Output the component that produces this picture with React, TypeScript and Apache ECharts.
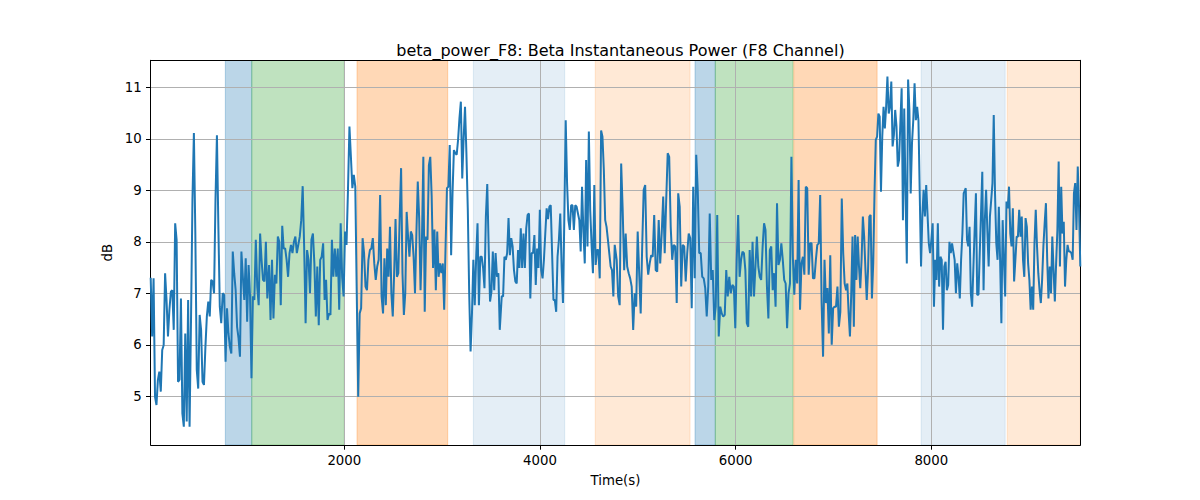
import React, { useEffect, useRef } from "react";
import * as echarts from "echarts";

const TITLE = "beta_power_F8: Beta Instantaneous Power (F8 Channel)";
const X_NAME = "Time(s)";
const Y_NAME = "dB";
const X_MIN = 21;
const X_MAX = 9523;
const Y_MIN = 4.054;
const Y_MAX = 11.524;
const X_TICKS = [2000, 4000, 6000, 8000];
const Y_TICKS = [5, 6, 7, 8, 9, 10, 11];

// shaded intervals (time, s)
const bandStarts = [784, 1054, 2130, 3319, 4565, 5585, 5792, 6594, 7896, 8776];
const bandEnds = [1054, 2000, 3057, 4253, 5534, 5792, 6587, 7446, 8755, 9523];
const bandColors = [
  "rgba(31,119,180,0.3)",
  "rgba(44,160,44,0.3)",
  "rgba(255,127,14,0.3)",
  "rgba(31,119,180,0.12)",
  "rgba(255,127,14,0.17)",
  "rgba(31,119,180,0.3)",
  "rgba(44,160,44,0.3)",
  "rgba(255,127,14,0.3)",
  "rgba(31,119,180,0.12)",
  "rgba(255,127,14,0.17)",
];

// signal, read in consecutive stretches of time
const segmentStarts = [21, 1231, 2410, 3609, 4784, 5967, 7142, 8352];
const segmentEnds = [1213, 2396, 3589, 4764, 5950, 7129, 8331, 9523];

const seg1 = [7.3, 6.16, 7.29, 4.99, 4.83, 5.32, 5.48, 5.09, 5.9, 5.99, 7.39, 6.87, 6.16, 6.68, 7.03, 7.06, 6.29, 8.36, 8.04, 5.28, 5.32, 6.9, 4.67, 4.41, 6.22, 4.51, 6.87, 4.41, 6.48, 8.81, 10.11, 8.16, 5.51, 5.15, 6.58, 6.29, 5.28, 5.22, 5.96, 6.55, 6.84, 6.55, 7.26, 7.23, 7.0, 8.81, 10.07, 8.29, 6.74, 6.42, 7.0, 6.97, 5.67, 6.71, 6.22, 5.96, 5.83, 7.81, 7.39, 7.06, 6.35, 6.13, 5.77, 7.81, 7.32, 6.87, 7.68, 6.45, 7.55, 6.94, 5.35, 6.94, 6.87, 8.04, 7.13, 6.77, 8.16, 7.65, 7.26, 7.23, 8.0, 6.9];
const seg2 = [7.55, 6.48, 7.65, 6.51, 7.36, 7.19, 8.1, 8.0, 6.77, 8.31, 7.87, 7.87, 7.65, 7.32, 7.78, 7.94, 7.78, 8.0, 8.1, 7.78, 7.94, 8.1, 8.42, 9.08, 7.91, 6.42, 7.84, 7.65, 7.0, 8.04, 8.16, 7.58, 6.55, 7.52, 6.38, 7.65, 7.71, 7.97, 6.87, 7.26, 6.48, 6.61, 6.58, 8.04, 7.32, 7.87, 7.32, 7.87, 6.68, 8.36, 7.32, 6.94, 8.2, 7.94, 9.01, 10.24, 9.65, 9.04, 9.3, 9.07, 7.0, 4.99, 6.61, 6.71, 8.07, 7.78, 7.13, 7.06, 7.65, 7.84, 7.87, 8.07, 7.58, 7.26, 7.52, 7.65, 8.91, 6.94, 6.61];
const seg3 = [7.68, 6.77, 7.87, 7.32, 8.29, 7.0, 6.55, 7.39, 8.44, 7.32, 7.39, 8.49, 9.43, 7.39, 6.58, 7.0, 8.58, 8.1, 7.71, 8.2, 8.13, 7.71, 7.0, 8.16, 9.17, 8.46, 7.06, 8.04, 9.65, 6.64, 8.1, 8.04, 9.49, 9.65, 8.88, 7.49, 8.24, 7.06, 8.2, 7.32, 7.58, 7.39, 7.58, 6.68, 7.91, 9.04, 9.07, 9.88, 7.74, 8.94, 9.78, 9.72, 9.69, 9.98, 10.4, 10.72, 9.23, 10.01, 10.62, 9.72, 8.62, 7.0, 5.87, 6.61, 7.65, 6.77, 7.68, 8.36, 6.77, 7.71, 7.71, 7.49, 7.1, 8.49, 9.12, 7.91, 6.84, 7.03, 7.81, 7.06, 7.78, 7.32, 7.39, 6.29];
const seg4 = [6.94, 6.94, 7.71, 7.65, 7.78, 8.46, 7.74, 8.07, 7.91, 7.45, 7.23, 7.19, 7.84, 7.49, 8.26, 7.49, 8.16, 7.49, 8.26, 8.52, 8.55, 6.9, 7.78, 7.78, 8.13, 7.16, 7.87, 7.49, 8.62, 7.45, 7.29, 7.65, 8.16, 8.65, 8.44, 8.68, 8.71, 7.78, 6.87, 6.87, 6.64, 7.71, 8.04, 8.55, 7.52, 6.81, 8.49, 10.36, 9.14, 8.42, 8.23, 8.71, 8.71, 8.23, 8.71, 8.68, 8.55, 8.42, 7.81, 9.07, 8.2, 7.58, 9.59, 7.91, 10.14, 8.62, 7.94, 7.39, 9.1, 7.55, 7.84, 7.84, 7.29, 10.16, 10.04, 9.4, 8.42, 8.29, 8.04, 7.78, 7.52, 7.45, 6.94, 7.94];
const seg5 = [7.65, 6.94, 6.77, 9.52, 8.62, 7.45, 8.16, 7.52, 7.39, 7.29, 7.13, 6.29, 7.0, 6.74, 8.2, 7.39, 6.61, 7.91, 9.01, 9.1, 7.71, 7.36, 7.58, 7.74, 7.71, 8.52, 7.45, 7.42, 8.42, 7.58, 8.16, 8.88, 7.78, 8.81, 9.72, 9.65, 8.29, 7.65, 7.94, 7.91, 6.81, 8.94, 8.68, 7.13, 7.94, 7.91, 7.23, 7.78, 8.16, 8.07, 6.71, 9.07, 7.29, 9.69, 9.01, 7.78, 7.78, 7.32, 7.29, 7.1, 6.55, 7.13, 8.55, 7.26, 7.45, 6.48, 6.74, 8.52, 6.16, 6.74, 6.61, 6.55, 6.58, 7.45, 6.94, 7.32, 7.0];
const seg6 = [7.16, 7.13, 6.32, 7.65, 8.52, 7.32, 7.65, 7.81, 7.78, 7.45, 6.42, 6.35, 7.84, 6.94, 8.0, 6.94, 7.52, 8.1, 7.52, 7.32, 7.26, 7.91, 8.36, 8.23, 7.13, 6.51, 7.84, 7.91, 7.06, 7.39, 6.74, 8.75, 7.55, 7.65, 7.97, 7.65, 7.26, 7.19, 6.32, 7.0, 7.19, 9.65, 7.71, 6.97, 7.65, 7.19, 9.2, 6.68, 7.58, 7.71, 7.36, 9.07, 9.04, 7.36, 7.97, 7.97, 7.29, 7.29, 7.65, 7.94, 7.97, 8.91, 6.81, 5.77, 7.65, 6.81, 7.1, 6.22, 7.74, 6.0, 6.71, 6.74, 6.74, 7.13, 6.35, 6.64, 8.84, 7.78, 7.19, 7.06];
const seg7 = [7.19, 6.61, 6.16, 7.0, 8.1, 6.35, 8.13, 7.26, 8.1, 7.52, 7.1, 7.65, 8.49, 8.1, 7.45, 6.87, 7.45, 8.49, 8.52, 6.9, 7.58, 8.94, 9.98, 10.04, 10.49, 10.43, 8.97, 10.04, 10.62, 10.2, 10.62, 11.21, 10.49, 10.62, 11.11, 9.85, 10.07, 10.56, 10.24, 9.46, 9.59, 10.3, 10.98, 8.42, 10.59, 8.94, 7.58, 11.15, 10.56, 8.94, 9.91, 10.36, 11.08, 10.36, 10.62, 10.36, 8.94, 7.52, 8.49, 9.01, 8.49, 9.1, 8.55, 7.97, 7.78, 8.04, 8.36, 6.74, 7.65, 7.26, 8.36, 7.13, 7.71, 7.65, 6.29, 7.52, 7.61, 7.06, 7.16, 8.0, 7.78, 7.97, 7.81, 7.65, 7.0, 7.58, 7.32, 6.9, 7.65, 8.16, 8.94];
const seg8 = [9.04, 8.04, 7.91, 8.29, 7.0, 6.74, 7.49, 8.23, 8.94, 6.97, 6.97, 7.78, 8.55, 9.36, 7.06, 8.42, 9.01, 8.2, 7.52, 8.49, 8.81, 9.14, 10.46, 8.94, 7.97, 7.65, 8.68, 7.65, 6.42, 8.42, 7.65, 6.94, 8.78, 8.65, 9.07, 8.16, 7.91, 8.65, 7.23, 7.65, 8.1, 8.1, 8.62, 8.1, 8.49, 7.65, 7.32, 8.46, 8.29, 7.58, 7.26, 6.68, 7.13, 6.68, 7.97, 8.62, 7.91, 7.39, 7.06, 6.81, 7.26, 7.91, 8.36, 8.75, 7.65, 6.9, 7.52, 7.0, 8.1, 7.45, 6.84, 7.58, 8.23, 9.56, 7.52, 9.07, 8.16, 8.39, 7.13, 7.65, 7.94, 7.81, 7.81, 7.78, 7.65, 8.94, 9.14, 8.23, 9.46, 8.68, 7.52];

const segmentValues = [seg1, seg2, seg3, seg4, seg5, seg6, seg7, seg8];

const FONT = "DejaVu Sans";

function buildPoints(): number[][] {
  const pts: number[][] = [];
  segmentValues.forEach((vals, i) => {
    const s = segmentStarts[i];
    const e = segmentEnds[i];
    const n = vals.length;
    vals.forEach((v, j) => {
      pts.push([s + ((e - s) * j) / (n - 1), v]);
    });
  });
  return pts;
}

export default function App() {
  const ref = useRef<HTMLDivElement>(null);

  useEffect(() => {
    document.body.style.margin = "0";
    if (!ref.current) return;
    const chart = echarts.init(ref.current, null, { renderer: "svg" });
    const bands = bandStarts.map((s, i) => [s, bandEnds[i], i]);
    const labelStyle = { color: "#000", fontSize: 13.3, fontFamily: FONT };
    const fmt = (v: number) => String(v);

    const option: any = {
      animation: false,
      backgroundColor: "#fff",
      title: {
        text: TITLE,
        left: 615.5,
        top: 37,
        textAlign: "center",
        textStyle: { fontFamily: FONT, fontSize: 16, fontWeight: "normal", color: "#000" },
      },
      grid: { left: 150.7, right: 119.7, top: 60.3, bottom: 55, containLabel: false },
      xAxis: [
        {
          type: "value",
          min: X_MIN,
          max: X_MAX,
          splitNumber: 5,
          name: X_NAME,
          nameLocation: "middle",
          nameGap: 29,
          nameTextStyle: labelStyle,
          axisLine: { show: true, onZero: false, lineStyle: { color: "#000", width: 1 } },
          axisTick: { show: true, length: 4.7, lineStyle: { color: "#000", width: 1 }, customValues: X_TICKS },
          axisLabel: { ...labelStyle, margin: 9, customValues: X_TICKS, formatter: fmt },
          splitLine: { show: true, lineStyle: { color: "#b0b0b0", width: 1 } },
          z: 2,
        },
        {
          type: "value",
          position: "top",
          min: X_MIN,
          max: X_MAX,
          axisLine: { show: true, onZero: false, lineStyle: { color: "#000", width: 1 } },
          axisTick: { show: false },
          axisLabel: { show: false },
          splitLine: { show: false },
          z: 2,
        },
      ],
      yAxis: [
        {
          type: "value",
          min: Y_MIN,
          max: Y_MAX,
          splitNumber: 7,
          name: Y_NAME,
          nameLocation: "middle",
          nameGap: 34,
          nameTextStyle: labelStyle,
          axisLine: { show: true, onZero: false, lineStyle: { color: "#000", width: 1 } },
          axisTick: { show: true, length: 4.7, lineStyle: { color: "#000", width: 1 }, customValues: Y_TICKS },
          axisLabel: { ...labelStyle, margin: 9, customValues: Y_TICKS, formatter: fmt },
          splitLine: { show: true, lineStyle: { color: "#b0b0b0", width: 1 } },
          z: 2,
        },
        {
          type: "value",
          position: "right",
          min: Y_MIN,
          max: Y_MAX,
          axisLine: { show: true, onZero: false, lineStyle: { color: "#000", width: 1 } },
          axisTick: { show: false },
          axisLabel: { show: false },
          splitLine: { show: false },
          z: 2,
        },
      ],
      series: [
        {
          type: "custom",
          xAxisIndex: 0,
          yAxisIndex: 0,
          z: 1,
          silent: true,
          clip: true,
          encode: { x: [0, 1] },
          data: bands,
          renderItem: (params: any, api: any) => {
            const x0 = api.coord([api.value(0), Y_MIN])[0];
            const x1 = api.coord([api.value(1), Y_MIN])[0];
            const cs = params.coordSys;
            const color = bandColors[api.value(2)];
            return {
              type: "rect",
              shape: { x: x0, y: cs.y, width: x1 - x0, height: cs.height },
              style: { fill: color, stroke: color, lineWidth: 1 },
            };
          },
        },
        {
          type: "line",
          xAxisIndex: 0,
          yAxisIndex: 0,
          z: 3,
          data: buildPoints(),
          showSymbol: false,
          symbol: "none",
          lineStyle: { color: "#1f77b4", width: 2 },
          silent: true,
        },
      ],
    };
    chart.setOption(option);
    return () => chart.dispose();
  }, []);

  return <div ref={ref} style={{ width: 1200, height: 500 }} />;
}
